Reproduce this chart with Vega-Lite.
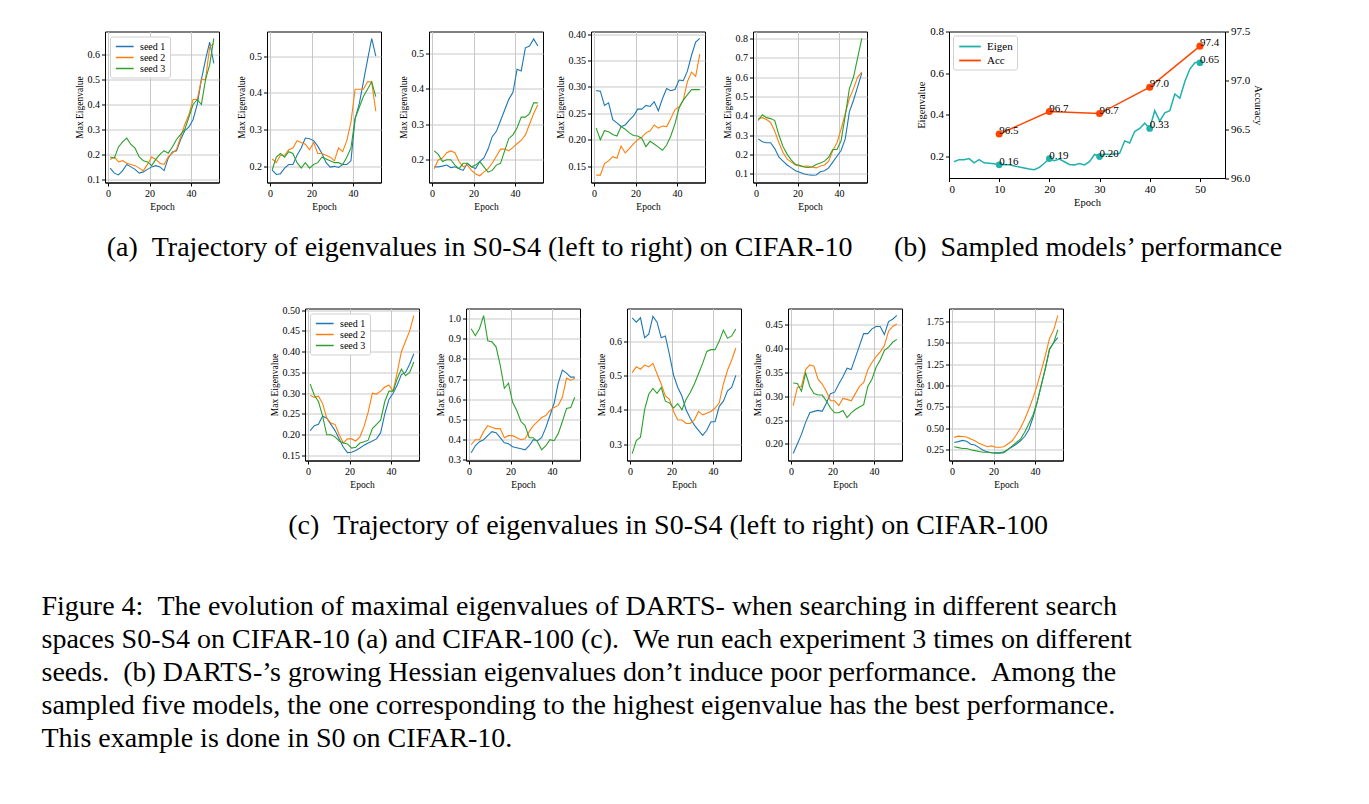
{
"$schema":"https://vega.github.io/schema/vega-lite/v6.json",
"background":"white",
"padding":{"left":41,"top":24.5,"right":5,"bottom":5},
"spacing":42,
"resolve":{"scale":{"color":"independent"},"legend":{"color":"independent"}},
"title":{"text":["Figure 4:\u2002The evolution of maximal eigenvalues of DARTS- when searching in different search","spaces S0-S4 on CIFAR-10 (a) and CIFAR-100 (c).\u2002We run each experiment 3 times on different","seeds.\u2002(b) DARTS-\u2019s growing Hessian eigenvalues don\u2019t induce poor performance.\u2002Among the","sampled five models, the one corresponding to the highest eigenvalue has the best performance.","This example is done in S0 on CIFAR-10."],"orient":"bottom","anchor":"start","frame":"bounds","dx":-32,"offset":53,"baseline":"top","lineHeight":33},
"datasets":{
"s":[
{"p":"a1","e":1,"s1":0.145,"s2":0.18,"s3":0.19},{"p":"a1","e":3,"s1":0.125,"s2":0.19,"s3":0.185},{"p":"a1","e":5,"s1":0.118,"s2":0.17,"s3":0.23},{"p":"a1","e":7,"s1":0.135,"s2":0.175,"s3":0.25},{"p":"a1","e":9,"s1":0.16,"s2":0.165,"s3":0.265},{"p":"a1","e":11,"s1":0.15,"s2":0.16,"s3":0.24},{"p":"a1","e":13,"s1":0.14,"s2":0.155,"s3":0.225},{"p":"a1","e":15,"s1":0.125,"s2":0.145,"s3":0.19},{"p":"a1","e":17,"s1":0.13,"s2":0.135,"s3":0.175},{"p":"a1","e":19,"s1":0.14,"s2":0.16,"s3":0.17},{"p":"a1","e":21,"s1":0.15,"s2":0.19,"s3":0.155},{"p":"a1","e":23,"s1":0.155,"s2":0.18,"s3":0.18},{"p":"a1","e":25,"s1":0.15,"s2":0.165,"s3":0.2},{"p":"a1","e":27,"s1":0.135,"s2":0.16,"s3":0.215},{"p":"a1","e":29,"s1":0.185,"s2":0.19,"s3":0.205},{"p":"a1","e":31,"s1":0.21,"s2":0.205,"s3":0.23},{"p":"a1","e":33,"s1":0.215,"s2":0.22,"s3":0.26},{"p":"a1","e":35,"s1":0.26,"s2":0.27,"s3":0.28},{"p":"a1","e":37,"s1":0.295,"s2":0.32,"s3":0.3},{"p":"a1","e":39,"s1":0.31,"s2":0.36,"s3":0.35},{"p":"a1","e":41,"s1":0.34,"s2":0.42,"s3":0.4},{"p":"a1","e":43,"s1":0.4,"s2":0.42,"s3":0.42},{"p":"a1","e":45,"s1":0.5,"s2":0.5,"s3":0.4},{"p":"a1","e":47,"s1":0.58,"s2":0.5,"s3":0.5},{"p":"a1","e":49,"s1":0.65,"s2":0.63,"s3":0.56},{"p":"a1","e":51,"s1":0.565,"s2":0.645,"s3":0.665},
{"p":"a2","e":1,"s1":0.19,"s2":0.22,"s3":0.19},{"p":"a2","e":3,"s1":0.178,"s2":0.21,"s3":0.225},{"p":"a2","e":5,"s1":0.18,"s2":0.23,"s3":0.235},{"p":"a2","e":7,"s1":0.195,"s2":0.23,"s3":0.225},{"p":"a2","e":9,"s1":0.205,"s2":0.245,"s3":0.24},{"p":"a2","e":11,"s1":0.205,"s2":0.25,"s3":0.235},{"p":"a2","e":13,"s1":0.23,"s2":0.27,"s3":0.21},{"p":"a2","e":15,"s1":0.25,"s2":0.265,"s3":0.195},{"p":"a2","e":17,"s1":0.277,"s2":0.26,"s3":0.21},{"p":"a2","e":19,"s1":0.275,"s2":0.245,"s3":0.195},{"p":"a2","e":21,"s1":0.27,"s2":0.265,"s3":0.205},{"p":"a2","e":23,"s1":0.255,"s2":0.235,"s3":0.21},{"p":"a2","e":25,"s1":0.235,"s2":0.235,"s3":0.225},{"p":"a2","e":27,"s1":0.21,"s2":0.23,"s3":0.22},{"p":"a2","e":29,"s1":0.198,"s2":0.225,"s3":0.215},{"p":"a2","e":31,"s1":0.2,"s2":0.215,"s3":0.21},{"p":"a2","e":33,"s1":0.197,"s2":0.25,"s3":0.21},{"p":"a2","e":35,"s1":0.205,"s2":0.24,"s3":0.205},{"p":"a2","e":37,"s1":0.205,"s2":0.27,"s3":0.225},{"p":"a2","e":39,"s1":0.215,"s2":0.32,"s3":0.25},{"p":"a2","e":41,"s1":0.33,"s2":0.41,"s3":0.33},{"p":"a2","e":43,"s1":0.37,"s2":0.41,"s3":0.36},{"p":"a2","e":45,"s1":0.43,"s2":0.41,"s3":0.39},{"p":"a2","e":47,"s1":0.49,"s2":0.43,"s3":0.41},{"p":"a2","e":49,"s1":0.548,"s2":0.43,"s3":0.43},{"p":"a2","e":51,"s1":0.5,"s2":0.35,"s3":0.39},
{"p":"a3","e":1,"s1":0.18,"s2":0.175,"s3":0.225},{"p":"a3","e":3,"s1":0.18,"s2":0.2,"s3":0.215},{"p":"a3","e":5,"s1":0.182,"s2":0.205,"s3":0.195},{"p":"a3","e":7,"s1":0.185,"s2":0.22,"s3":0.2},{"p":"a3","e":9,"s1":0.178,"s2":0.225,"s3":0.2},{"p":"a3","e":11,"s1":0.18,"s2":0.22,"s3":0.185},{"p":"a3","e":13,"s1":0.175,"s2":0.195,"s3":0.175},{"p":"a3","e":15,"s1":0.17,"s2":0.18,"s3":0.19},{"p":"a3","e":17,"s1":0.19,"s2":0.185,"s3":0.19},{"p":"a3","e":19,"s1":0.18,"s2":0.17,"s3":0.18},{"p":"a3","e":21,"s1":0.175,"s2":0.16,"s3":0.185},{"p":"a3","e":23,"s1":0.195,"s2":0.155,"s3":0.195},{"p":"a3","e":25,"s1":0.205,"s2":0.165,"s3":0.18},{"p":"a3","e":27,"s1":0.23,"s2":0.175,"s3":0.165},{"p":"a3","e":29,"s1":0.265,"s2":0.19,"s3":0.17},{"p":"a3","e":31,"s1":0.28,"s2":0.21,"s3":0.185},{"p":"a3","e":33,"s1":0.31,"s2":0.23,"s3":0.19},{"p":"a3","e":35,"s1":0.34,"s2":0.23,"s3":0.225},{"p":"a3","e":37,"s1":0.37,"s2":0.225,"s3":0.26},{"p":"a3","e":39,"s1":0.39,"s2":0.235,"s3":0.27},{"p":"a3","e":41,"s1":0.455,"s2":0.245,"s3":0.29},{"p":"a3","e":43,"s1":0.45,"s2":0.255,"s3":0.32},{"p":"a3","e":45,"s1":0.515,"s2":0.27,"s3":0.32},{"p":"a3","e":47,"s1":0.52,"s2":0.3,"s3":0.33},{"p":"a3","e":49,"s1":0.54,"s2":0.33,"s3":0.36},{"p":"a3","e":51,"s1":0.52,"s2":0.355,"s3":0.36},
{"p":"a4","e":1,"s1":0.293,"s2":0.133,"s3":0.222},{"p":"a4","e":3,"s1":0.292,"s2":0.133,"s3":0.2},{"p":"a4","e":5,"s1":0.265,"s2":0.155,"s3":0.217},{"p":"a4","e":7,"s1":0.27,"s2":0.16,"s3":0.215},{"p":"a4","e":9,"s1":0.238,"s2":0.168,"s3":0.21},{"p":"a4","e":11,"s1":0.232,"s2":0.165,"s3":0.207},{"p":"a4","e":13,"s1":0.225,"s2":0.188,"s3":0.225},{"p":"a4","e":15,"s1":0.228,"s2":0.175,"s3":0.22},{"p":"a4","e":17,"s1":0.237,"s2":0.183,"s3":0.213},{"p":"a4","e":19,"s1":0.245,"s2":0.192,"s3":0.208},{"p":"a4","e":21,"s1":0.258,"s2":0.2,"s3":0.207},{"p":"a4","e":23,"s1":0.258,"s2":0.205,"s3":0.203},{"p":"a4","e":25,"s1":0.265,"s2":0.213,"s3":0.187},{"p":"a4","e":27,"s1":0.263,"s2":0.217,"s3":0.197},{"p":"a4","e":29,"s1":0.272,"s2":0.228,"s3":0.192},{"p":"a4","e":31,"s1":0.255,"s2":0.222,"s3":0.186},{"p":"a4","e":33,"s1":0.278,"s2":0.226,"s3":0.18},{"p":"a4","e":35,"s1":0.297,"s2":0.225,"s3":0.19},{"p":"a4","e":37,"s1":0.293,"s2":0.24,"s3":0.207},{"p":"a4","e":39,"s1":0.295,"s2":0.257,"s3":0.23},{"p":"a4","e":41,"s1":0.313,"s2":0.262,"s3":0.26},{"p":"a4","e":43,"s1":0.312,"s2":0.275,"s3":0.275},{"p":"a4","e":45,"s1":0.33,"s2":0.31,"s3":0.285},{"p":"a4","e":47,"s1":0.36,"s2":0.328,"s3":0.295},{"p":"a4","e":49,"s1":0.385,"s2":0.32,"s3":0.295},{"p":"a4","e":51,"s1":0.392,"s2":0.362,"s3":0.295},
{"p":"a5","e":1,"s1":0.28,"s2":0.385,"s3":0.375},{"p":"a5","e":3,"s1":0.265,"s2":0.39,"s3":0.405},{"p":"a5","e":5,"s1":0.26,"s2":0.38,"s3":0.39},{"p":"a5","e":7,"s1":0.26,"s2":0.365,"s3":0.385},{"p":"a5","e":9,"s1":0.23,"s2":0.32,"s3":0.375},{"p":"a5","e":11,"s1":0.185,"s2":0.26,"s3":0.3},{"p":"a5","e":13,"s1":0.165,"s2":0.21,"s3":0.24},{"p":"a5","e":15,"s1":0.145,"s2":0.175,"s3":0.2},{"p":"a5","e":17,"s1":0.13,"s2":0.16,"s3":0.17},{"p":"a5","e":19,"s1":0.115,"s2":0.145,"s3":0.148},{"p":"a5","e":21,"s1":0.108,"s2":0.14,"s3":0.143},{"p":"a5","e":23,"s1":0.1,"s2":0.138,"s3":0.135},{"p":"a5","e":25,"s1":0.095,"s2":0.14,"s3":0.132},{"p":"a5","e":27,"s1":0.092,"s2":0.135,"s3":0.135},{"p":"a5","e":29,"s1":0.093,"s2":0.13,"s3":0.148},{"p":"a5","e":31,"s1":0.11,"s2":0.14,"s3":0.155},{"p":"a5","e":33,"s1":0.115,"s2":0.145,"s3":0.165},{"p":"a5","e":35,"s1":0.13,"s2":0.165,"s3":0.185},{"p":"a5","e":37,"s1":0.16,"s2":0.22,"s3":0.225},{"p":"a5","e":39,"s1":0.19,"s2":0.26,"s3":0.225},{"p":"a5","e":41,"s1":0.22,"s2":0.33,"s3":0.27},{"p":"a5","e":43,"s1":0.28,"s2":0.41,"s3":0.4},{"p":"a5","e":45,"s1":0.42,"s2":0.49,"s3":0.54},{"p":"a5","e":47,"s1":0.48,"s2":0.54,"s3":0.6},{"p":"a5","e":49,"s1":0.55,"s2":0.6,"s3":0.7},{"p":"a5","e":51,"s1":0.62,"s2":0.625,"s3":0.8},
{"p":"c1","e":1,"s1":0.21,"s2":0.295,"s3":0.322},{"p":"c1","e":3,"s1":0.222,"s2":0.29,"s3":0.295},{"p":"c1","e":5,"s1":0.225,"s2":0.293,"s3":0.28},{"p":"c1","e":7,"s1":0.245,"s2":0.275,"s3":0.245},{"p":"c1","e":9,"s1":0.24,"s2":0.24,"s3":0.2},{"p":"c1","e":11,"s1":0.225,"s2":0.228,"s3":0.2},{"p":"c1","e":13,"s1":0.21,"s2":0.225,"s3":0.195},{"p":"c1","e":15,"s1":0.19,"s2":0.2,"s3":0.185},{"p":"c1","e":17,"s1":0.17,"s2":0.18,"s3":0.18},{"p":"c1","e":19,"s1":0.157,"s2":0.19,"s3":0.178},{"p":"c1","e":21,"s1":0.158,"s2":0.19,"s3":0.168},{"p":"c1","e":23,"s1":0.162,"s2":0.185,"s3":0.17},{"p":"c1","e":25,"s1":0.168,"s2":0.195,"s3":0.18},{"p":"c1","e":27,"s1":0.175,"s2":0.22,"s3":0.183},{"p":"c1","e":29,"s1":0.18,"s2":0.255,"s3":0.187},{"p":"c1","e":31,"s1":0.185,"s2":0.3,"s3":0.215},{"p":"c1","e":33,"s1":0.19,"s2":0.298,"s3":0.225},{"p":"c1","e":35,"s1":0.205,"s2":0.305,"s3":0.235},{"p":"c1","e":37,"s1":0.25,"s2":0.315,"s3":0.28},{"p":"c1","e":39,"s1":0.285,"s2":0.32,"s3":0.305},{"p":"c1","e":41,"s1":0.3,"s2":0.305,"s3":0.305},{"p":"c1","e":43,"s1":0.32,"s2":0.35,"s3":0.335},{"p":"c1","e":45,"s1":0.345,"s2":0.4,"s3":0.358},{"p":"c1","e":47,"s1":0.35,"s2":0.425,"s3":0.342},{"p":"c1","e":49,"s1":0.37,"s2":0.45,"s3":0.35},{"p":"c1","e":51,"s1":0.395,"s2":0.487,"s3":0.375},
{"p":"c2","e":1,"s1":0.335,"s2":0.375,"s3":0.95},{"p":"c2","e":3,"s1":0.37,"s2":0.4,"s3":0.915},{"p":"c2","e":5,"s1":0.39,"s2":0.4,"s3":0.95},{"p":"c2","e":7,"s1":0.4,"s2":0.44,"s3":1.015},{"p":"c2","e":9,"s1":0.42,"s2":0.47,"s3":0.89},{"p":"c2","e":11,"s1":0.44,"s2":0.46,"s3":0.885},{"p":"c2","e":13,"s1":0.435,"s2":0.455,"s3":0.86},{"p":"c2","e":15,"s1":0.41,"s2":0.455,"s3":0.77},{"p":"c2","e":17,"s1":0.385,"s2":0.41,"s3":0.655},{"p":"c2","e":19,"s1":0.38,"s2":0.42,"s3":0.68},{"p":"c2","e":21,"s1":0.365,"s2":0.42,"s3":0.585},{"p":"c2","e":23,"s1":0.36,"s2":0.41,"s3":0.545},{"p":"c2","e":25,"s1":0.355,"s2":0.4,"s3":0.49},{"p":"c2","e":27,"s1":0.35,"s2":0.405,"s3":0.47},{"p":"c2","e":29,"s1":0.37,"s2":0.44,"s3":0.41},{"p":"c2","e":31,"s1":0.4,"s2":0.47,"s3":0.41},{"p":"c2","e":33,"s1":0.395,"s2":0.49,"s3":0.39},{"p":"c2","e":35,"s1":0.41,"s2":0.51,"s3":0.35},{"p":"c2","e":37,"s1":0.46,"s2":0.52,"s3":0.37},{"p":"c2","e":39,"s1":0.52,"s2":0.545,"s3":0.4},{"p":"c2","e":41,"s1":0.58,"s2":0.56,"s3":0.395},{"p":"c2","e":43,"s1":0.68,"s2":0.57,"s3":0.43},{"p":"c2","e":45,"s1":0.745,"s2":0.61,"s3":0.49},{"p":"c2","e":47,"s1":0.73,"s2":0.705,"s3":0.555},{"p":"c2","e":49,"s1":0.71,"s2":0.695,"s3":0.56},{"p":"c2","e":51,"s1":0.71,"s2":0.705,"s3":0.61},
{"p":"c3","e":1,"s1":0.668,"s2":0.508,"s3":0.272},{"p":"c3","e":3,"s1":0.655,"s2":0.525,"s3":0.31},{"p":"c3","e":5,"s1":0.668,"s2":0.518,"s3":0.32},{"p":"c3","e":7,"s1":0.61,"s2":0.53,"s3":0.4},{"p":"c3","e":9,"s1":0.62,"s2":0.525,"s3":0.445},{"p":"c3","e":11,"s1":0.672,"s2":0.535,"s3":0.462},{"p":"c3","e":13,"s1":0.655,"s2":0.505,"s3":0.448},{"p":"c3","e":15,"s1":0.61,"s2":0.475,"s3":0.465},{"p":"c3","e":17,"s1":0.615,"s2":0.44,"s3":0.425},{"p":"c3","e":19,"s1":0.56,"s2":0.43,"s3":0.42},{"p":"c3","e":21,"s1":0.5,"s2":0.395,"s3":0.405},{"p":"c3","e":23,"s1":0.465,"s2":0.37,"s3":0.418},{"p":"c3","e":25,"s1":0.44,"s2":0.37,"s3":0.4},{"p":"c3","e":27,"s1":0.4,"s2":0.36,"s3":0.43},{"p":"c3","e":29,"s1":0.375,"s2":0.36,"s3":0.45},{"p":"c3","e":31,"s1":0.355,"s2":0.37,"s3":0.475},{"p":"c3","e":33,"s1":0.34,"s2":0.395,"s3":0.505},{"p":"c3","e":35,"s1":0.325,"s2":0.385,"s3":0.535},{"p":"c3","e":37,"s1":0.34,"s2":0.39,"s3":0.57},{"p":"c3","e":39,"s1":0.365,"s2":0.395,"s3":0.575},{"p":"c3","e":41,"s1":0.365,"s2":0.405,"s3":0.575},{"p":"c3","e":43,"s1":0.41,"s2":0.42,"s3":0.6},{"p":"c3","e":45,"s1":0.425,"s2":0.475,"s3":0.632},{"p":"c3","e":47,"s1":0.455,"s2":0.515,"s3":0.608},{"p":"c3","e":49,"s1":0.465,"s2":0.545,"s3":0.615},{"p":"c3","e":51,"s1":0.5,"s2":0.58,"s3":0.635},
{"p":"c4","e":1,"s1":0.18,"s2":0.28,"s3":0.327},{"p":"c4","e":3,"s1":0.2,"s2":0.318,"s3":0.326},{"p":"c4","e":5,"s1":0.22,"s2":0.32,"s3":0.31},{"p":"c4","e":7,"s1":0.245,"s2":0.355,"s3":0.348},{"p":"c4","e":9,"s1":0.265,"s2":0.365,"s3":0.32},{"p":"c4","e":11,"s1":0.268,"s2":0.362,"s3":0.305},{"p":"c4","e":13,"s1":0.27,"s2":0.335,"s3":0.302},{"p":"c4","e":15,"s1":0.268,"s2":0.325,"s3":0.302},{"p":"c4","e":17,"s1":0.285,"s2":0.31,"s3":0.29},{"p":"c4","e":19,"s1":0.305,"s2":0.29,"s3":0.275},{"p":"c4","e":21,"s1":0.308,"s2":0.29,"s3":0.265},{"p":"c4","e":23,"s1":0.325,"s2":0.28,"s3":0.265},{"p":"c4","e":25,"s1":0.34,"s2":0.295,"s3":0.27},{"p":"c4","e":27,"s1":0.358,"s2":0.293,"s3":0.255},{"p":"c4","e":29,"s1":0.355,"s2":0.29,"s3":0.265},{"p":"c4","e":31,"s1":0.38,"s2":0.305,"s3":0.272},{"p":"c4","e":33,"s1":0.405,"s2":0.32,"s3":0.277},{"p":"c4","e":35,"s1":0.43,"s2":0.328,"s3":0.282},{"p":"c4","e":37,"s1":0.43,"s2":0.355,"s3":0.32},{"p":"c4","e":39,"s1":0.44,"s2":0.37,"s3":0.335},{"p":"c4","e":41,"s1":0.445,"s2":0.382,"s3":0.36},{"p":"c4","e":43,"s1":0.445,"s2":0.392,"s3":0.375},{"p":"c4","e":45,"s1":0.428,"s2":0.405,"s3":0.395},{"p":"c4","e":47,"s1":0.455,"s2":0.435,"s3":0.402},{"p":"c4","e":49,"s1":0.46,"s2":0.445,"s3":0.412},{"p":"c4","e":51,"s1":0.468,"s2":0.45,"s3":0.418},
{"p":"c5","e":1,"s1":0.33,"s2":0.39,"s3":0.28},{"p":"c5","e":3,"s1":0.34,"s2":0.405,"s3":0.27},{"p":"c5","e":5,"s1":0.355,"s2":0.4,"s3":0.26},{"p":"c5","e":7,"s1":0.345,"s2":0.395,"s3":0.26},{"p":"c5","e":9,"s1":0.31,"s2":0.37,"s3":0.245},{"p":"c5","e":11,"s1":0.3,"s2":0.35,"s3":0.235},{"p":"c5","e":13,"s1":0.27,"s2":0.32,"s3":0.225},{"p":"c5","e":15,"s1":0.24,"s2":0.3,"s3":0.215},{"p":"c5","e":17,"s1":0.22,"s2":0.28,"s3":0.215},{"p":"c5","e":19,"s1":0.21,"s2":0.29,"s3":0.21},{"p":"c5","e":21,"s1":0.205,"s2":0.275,"s3":0.21},{"p":"c5","e":23,"s1":0.205,"s2":0.275,"s3":0.21},{"p":"c5","e":25,"s1":0.21,"s2":0.28,"s3":0.22},{"p":"c5","e":27,"s1":0.25,"s2":0.315,"s3":0.25},{"p":"c5","e":29,"s1":0.28,"s2":0.35,"s3":0.29},{"p":"c5","e":31,"s1":0.31,"s2":0.42,"s3":0.33},{"p":"c5","e":33,"s1":0.35,"s2":0.5,"s3":0.37},{"p":"c5","e":35,"s1":0.4,"s2":0.6,"s3":0.45},{"p":"c5","e":37,"s1":0.48,"s2":0.72,"s3":0.55},{"p":"c5","e":39,"s1":0.62,"s2":0.85,"s3":0.65},{"p":"c5","e":41,"s1":0.8,"s2":1.0,"s3":0.8},{"p":"c5","e":43,"s1":1.0,"s2":1.17,"s3":1.0},{"p":"c5","e":45,"s1":1.2,"s2":1.35,"s3":1.2},{"p":"c5","e":47,"s1":1.42,"s2":1.55,"s3":1.43},{"p":"c5","e":49,"s1":1.5,"s2":1.65,"s3":1.5},{"p":"c5","e":51,"s1":1.56,"s2":1.82,"s3":1.65}
],
"eig":[{"e":1,"v":0.175},{"e":2,"v":0.185},{"e":3,"v":0.185},{"e":4,"v":0.19},{"e":5,"v":0.17},{"e":6,"v":0.185},{"e":7,"v":0.17},{"e":8,"v":0.168},{"e":9,"v":0.165},{"e":10,"v":0.16},{"e":11,"v":0.162},{"e":12,"v":0.16},{"e":13,"v":0.155},{"e":14,"v":0.15},{"e":15,"v":0.145},{"e":16,"v":0.14},{"e":17,"v":0.137},{"e":18,"v":0.148},{"e":19,"v":0.168},{"e":20,"v":0.19},{"e":21,"v":0.18},{"e":22,"v":0.188},{"e":23,"v":0.175},{"e":24,"v":0.162},{"e":25,"v":0.16},{"e":26,"v":0.167},{"e":27,"v":0.16},{"e":28,"v":0.175},{"e":29,"v":0.21},{"e":30,"v":0.2},{"e":31,"v":0.212},{"e":32,"v":0.21},{"e":33,"v":0.212},{"e":34,"v":0.215},{"e":35,"v":0.275},{"e":36,"v":0.265},{"e":37,"v":0.32},{"e":38,"v":0.335},{"e":39,"v":0.36},{"e":40,"v":0.335},{"e":41,"v":0.42},{"e":42,"v":0.37},{"e":43,"v":0.41},{"e":44,"v":0.42},{"e":45,"v":0.5},{"e":46,"v":0.48},{"e":47,"v":0.56},{"e":48,"v":0.62},{"e":49,"v":0.65},{"e":50,"v":0.655}],
"eigpt":[{"e":10,"v":0.16,"lab":"0.16"},{"e":20,"v":0.19,"lab":"0.19"},{"e":30,"v":0.2,"lab":"0.20"},{"e":40,"v":0.335,"lab":"0.33"},{"e":50,"v":0.65,"lab":"0.65"}],
"acc":[{"e":10,"v":96.45,"lab":"96.5"},{"e":20,"v":96.68,"lab":"96.7"},{"e":30,"v":96.66,"lab":"96.7"},{"e":40,"v":96.93,"lab":"97.0"},{"e":50,"v":97.35,"lab":"97.4"}]
},
"vconcat":[
{"hconcat":[
 {"hconcat":[
  {"width":114,"height":151,"data":{"name":"s"},"transform":[{"filter":"datum.p=='a1'"},{"fold":["s1","s2","s3"],"as":["seed","v"]}],"mark":{"type":"line","strokeWidth":1.1},
   "encoding":{"x":{"field":"e","type":"quantitative","scale":{"domain":[-1.5,53.5],"nice":false,"zero":false},"axis":{"values":[0,20,40],"title":"Epoch"}},
   "y":{"field":"v","type":"quantitative","scale":{"domain":[0.0875,0.6925],"nice":false,"zero":false},"axis":{"values":[0.1,0.2,0.3,0.4,0.5,0.6],"format":".1f","title":"Max Eigenvalue"}},
   "color":{"field":"seed","type":"nominal","scale":{"domain":["s1","s2","s3"],"range":["#1f77b4","#ff7f0e","#2ca02c"]},"legend":{"orient":"top-left","offset":5,"title":null,"symbolType":"M-0.8,0H2.6","symbolSize":110,"symbolStrokeWidth":1.5,"labelFont":"Liberation Serif","labelFontSize":10,"labelColor":"black","labelExpr":"'seed ' + substring(datum.label,1)","strokeColor":"#d0d0d0","fillColor":"white","padding":4,"rowPadding":0,"cornerRadius":2,"labelOffset":14}}}},
  {"width":114,"height":151,"data":{"name":"s"},"transform":[{"filter":"datum.p=='a2'"},{"fold":["s1","s2","s3"],"as":["seed","v"]}],"mark":{"type":"line","strokeWidth":1.1},
   "encoding":{"x":{"field":"e","type":"quantitative","scale":{"domain":[-1.5,53.5],"nice":false,"zero":false},"axis":{"values":[0,20,40],"title":"Epoch"}},
   "y":{"field":"v","type":"quantitative","scale":{"domain":[0.156,0.567],"nice":false,"zero":false},"axis":{"values":[0.2,0.3,0.4,0.5],"format":".1f","title":"Max Eigenvalue"}},
   "color":{"field":"seed","type":"nominal","scale":{"domain":["s1","s2","s3"],"range":["#1f77b4","#ff7f0e","#2ca02c"]},"legend":null}}},
  {"width":114,"height":151,"data":{"name":"s"},"transform":[{"filter":"datum.p=='a3'"},{"fold":["s1","s2","s3"],"as":["seed","v"]}],"mark":{"type":"line","strokeWidth":1.1},
   "encoding":{"x":{"field":"e","type":"quantitative","scale":{"domain":[-1.5,53.5],"nice":false,"zero":false},"axis":{"values":[0,20,40],"title":"Epoch"}},
   "y":{"field":"v","type":"quantitative","scale":{"domain":[0.136,0.561],"nice":false,"zero":false},"axis":{"values":[0.2,0.3,0.4,0.5],"format":".1f","title":"Max Eigenvalue"}},
   "color":{"field":"seed","type":"nominal","scale":{"domain":["s1","s2","s3"],"range":["#1f77b4","#ff7f0e","#2ca02c"]},"legend":null}}},
  {"width":114,"height":151,"data":{"name":"s"},"transform":[{"filter":"datum.p=='a4'"},{"fold":["s1","s2","s3"],"as":["seed","v"]}],"mark":{"type":"line","strokeWidth":1.1},
   "encoding":{"x":{"field":"e","type":"quantitative","scale":{"domain":[-1.5,53.5],"nice":false,"zero":false},"axis":{"values":[0,20,40],"title":"Epoch"}},
   "y":{"field":"v","type":"quantitative","scale":{"domain":[0.119,0.405],"nice":false,"zero":false},"axis":{"values":[0.15,0.2,0.25,0.3,0.35,0.4],"format":".2f","title":"Max Eigenvalue"}},
   "color":{"field":"seed","type":"nominal","scale":{"domain":["s1","s2","s3"],"range":["#1f77b4","#ff7f0e","#2ca02c"]},"legend":null}}},
  {"width":114,"height":151,"data":{"name":"s"},"transform":[{"filter":"datum.p=='a5'"},{"fold":["s1","s2","s3"],"as":["seed","v"]}],"mark":{"type":"line","strokeWidth":1.1},
   "encoding":{"x":{"field":"e","type":"quantitative","scale":{"domain":[-1.5,53.5],"nice":false,"zero":false},"axis":{"values":[0,20,40],"title":"Epoch"}},
   "y":{"field":"v","type":"quantitative","scale":{"domain":[0.0545,0.8355],"nice":false,"zero":false},"axis":{"values":[0.1,0.2,0.3,0.4,0.5,0.6,0.7,0.8],"format":".1f","title":"Max Eigenvalue"}},
   "color":{"field":"seed","type":"nominal","scale":{"domain":["s1","s2","s3"],"range":["#1f77b4","#ff7f0e","#2ca02c"]},"legend":null}}}
 ],"spacing":48,"bounds":"flush","resolve":{"scale":{"color":"independent"},"legend":{"color":"independent"}},
 "title":{"text":"(a)\u2002Trajectory of eigenvalues in S0-S4 (left to right) on CIFAR-10","orient":"bottom","anchor":"middle","frame":"bounds","offset":23,"baseline":"top","dx":9}},
 {"width":276,"height":146.5,
  "title":{"text":"(b)\u2002Sampled models\u2019 performance","orient":"bottom","anchor":"middle","frame":"group","offset":26,"baseline":"top","dx":1},
  "layer":[
   {"layer":[
    {"data":{"name":"eig"},"mark":{"type":"line","strokeWidth":1.5},"encoding":{"x":{"field":"e","type":"quantitative","scale":{"domain":[0,55],"nice":false,"zero":false},"axis":{"values":[0,10,20,30,40,50],"title":"Epoch","grid":false,"labelFontSize":11,"titleFontSize":10.5}},"y":{"field":"v","type":"quantitative","scale":{"domain":[0.097,0.8],"nice":false,"zero":false},"axis":{"values":[0.2,0.4,0.6,0.8],"format":".1f","title":"Eigenvalue","grid":false,"orient":"left","labelFontSize":11,"titleFontSize":10.5}},"color":{"datum":"Eigen","type":"nominal","scale":{"domain":["Eigen","Acc"],"range":["#20b2aa","#ff4500"]},"legend":{"orient":"top-left","offset":4,"title":null,"symbolType":"M-0.8,0H2.8","symbolSize":144,"symbolStrokeWidth":1.8,"labelFont":"Liberation Serif","labelFontSize":11,"labelColor":"black","strokeColor":"#d0d0d0","fillColor":"white","padding":4,"rowPadding":2,"cornerRadius":2,"labelOffset":16}}}},
    {"data":{"name":"eigpt"},"mark":{"type":"circle","size":45,"color":"#20b2aa","opacity":1},"encoding":{"x":{"field":"e","type":"quantitative"},"y":{"field":"v","type":"quantitative"}}},
    {"data":{"name":"eigpt"},"mark":{"type":"text","align":"left","baseline":"alphabetic","font":"Liberation Serif","fontSize":11,"color":"black"},"encoding":{"x":{"field":"e","type":"quantitative"},"y":{"field":"v","type":"quantitative"},"text":{"field":"lab"}}}
   ]},
   {"layer":[
    {"data":{"name":"acc"},"mark":{"type":"line","strokeWidth":1.5},"encoding":{"x":{"field":"e","type":"quantitative"},"y":{"field":"v","type":"quantitative","scale":{"domain":[96.0,97.5],"nice":false,"zero":false},"axis":{"values":[96.0,96.5,97.0,97.5],"format":".1f","title":"Accuracy","grid":false,"orient":"right","labelFontSize":11,"titleFontSize":10.5}},"color":{"datum":"Acc","type":"nominal"}}},
    {"data":{"name":"acc"},"mark":{"type":"circle","size":50,"color":"#ff4500","opacity":1},"encoding":{"x":{"field":"e","type":"quantitative"},"y":{"field":"v","type":"quantitative"}}},
    {"data":{"name":"acc"},"mark":{"type":"text","align":"left","baseline":"alphabetic","font":"Liberation Serif","fontSize":11,"color":"black"},"encoding":{"x":{"field":"e","type":"quantitative"},"y":{"field":"v","type":"quantitative"},"text":{"field":"lab"}}}
   ]}
  ],
  "resolve":{"scale":{"y":"independent"}}}
 ],"spacing":24,"resolve":{"scale":{"color":"independent"},"legend":{"color":"independent"}}},
{"hconcat":[
 {"width":116,"height":20,"data":{"values":[]},"mark":"point","view":{"stroke":null}},
 {"hconcat":[
  {"width":114,"height":152,"data":{"name":"s"},"transform":[{"filter":"datum.p=='c1'"},{"fold":["s1","s2","s3"],"as":["seed","v"]}],"mark":{"type":"line","strokeWidth":1.1},
   "encoding":{"x":{"field":"e","type":"quantitative","scale":{"domain":[-1.5,53.5],"nice":false,"zero":false},"axis":{"values":[0,20,40],"title":"Epoch"}},
   "y":{"field":"v","type":"quantitative","scale":{"domain":[0.138,0.504],"nice":false,"zero":false},"axis":{"values":[0.15,0.2,0.25,0.3,0.35,0.4,0.45,0.5],"format":".2f","title":"Max Eigenvalue"}},
   "color":{"field":"seed","type":"nominal","scale":{"domain":["s1","s2","s3"],"range":["#1f77b4","#ff7f0e","#2ca02c"]},"legend":{"orient":"top-left","offset":5,"title":null,"symbolType":"M-0.8,0H2.6","symbolSize":110,"symbolStrokeWidth":1.5,"labelFont":"Liberation Serif","labelFontSize":10,"labelColor":"black","labelExpr":"'seed ' + substring(datum.label,1)","strokeColor":"#d0d0d0","fillColor":"white","padding":4,"rowPadding":0,"cornerRadius":2,"labelOffset":14}}}},
  {"width":114,"height":152,"data":{"name":"s"},"transform":[{"filter":"datum.p=='c2'"},{"fold":["s1","s2","s3"],"as":["seed","v"]}],"mark":{"type":"line","strokeWidth":1.1},
   "encoding":{"x":{"field":"e","type":"quantitative","scale":{"domain":[-1.5,53.5],"nice":false,"zero":false},"axis":{"values":[0,20,40],"title":"Epoch"}},
   "y":{"field":"v","type":"quantitative","scale":{"domain":[0.297,1.05],"nice":false,"zero":false},"axis":{"values":[0.3,0.4,0.5,0.6,0.7,0.8,0.9,1.0],"format":".1f","title":"Max Eigenvalue"}},
   "color":{"field":"seed","type":"nominal","scale":{"domain":["s1","s2","s3"],"range":["#1f77b4","#ff7f0e","#2ca02c"]},"legend":null}}},
  {"width":114,"height":152,"data":{"name":"s"},"transform":[{"filter":"datum.p=='c3'"},{"fold":["s1","s2","s3"],"as":["seed","v"]}],"mark":{"type":"line","strokeWidth":1.1},
   "encoding":{"x":{"field":"e","type":"quantitative","scale":{"domain":[-1.5,53.5],"nice":false,"zero":false},"axis":{"values":[0,20,40],"title":"Epoch"}},
   "y":{"field":"v","type":"quantitative","scale":{"domain":[0.252,0.695],"nice":false,"zero":false},"axis":{"values":[0.3,0.4,0.5,0.6],"format":".1f","title":"Max Eigenvalue"}},
   "color":{"field":"seed","type":"nominal","scale":{"domain":["s1","s2","s3"],"range":["#1f77b4","#ff7f0e","#2ca02c"]},"legend":null}}},
  {"width":114,"height":152,"data":{"name":"s"},"transform":[{"filter":"datum.p=='c4'"},{"fold":["s1","s2","s3"],"as":["seed","v"]}],"mark":{"type":"line","strokeWidth":1.1},
   "encoding":{"x":{"field":"e","type":"quantitative","scale":{"domain":[-1.5,53.5],"nice":false,"zero":false},"axis":{"values":[0,20,40],"title":"Epoch"}},
   "y":{"field":"v","type":"quantitative","scale":{"domain":[0.1656,0.4824],"nice":false,"zero":false},"axis":{"values":[0.2,0.25,0.3,0.35,0.4,0.45],"format":".2f","title":"Max Eigenvalue"}},
   "color":{"field":"seed","type":"nominal","scale":{"domain":["s1","s2","s3"],"range":["#1f77b4","#ff7f0e","#2ca02c"]},"legend":null}}},
  {"width":114,"height":152,"data":{"name":"s"},"transform":[{"filter":"datum.p=='c5'"},{"fold":["s1","s2","s3"],"as":["seed","v"]}],"mark":{"type":"line","strokeWidth":1.1},
   "encoding":{"x":{"field":"e","type":"quantitative","scale":{"domain":[-1.5,53.5],"nice":false,"zero":false},"axis":{"values":[0,20,40],"title":"Epoch"}},
   "y":{"field":"v","type":"quantitative","scale":{"domain":[0.119,1.901],"nice":false,"zero":false},"axis":{"values":[0.25,0.5,0.75,1.0,1.25,1.5,1.75],"format":".2f","title":"Max Eigenvalue"}},
   "color":{"field":"seed","type":"nominal","scale":{"domain":["s1","s2","s3"],"range":["#1f77b4","#ff7f0e","#2ca02c"]},"legend":null}}}
 ],"spacing":47,"bounds":"flush","resolve":{"scale":{"color":"independent"},"legend":{"color":"independent"}},
 "title":{"text":"(c)\u2002Trajectory of eigenvalues in S0-S4 (left to right) on CIFAR-100","orient":"bottom","anchor":"middle","frame":"bounds","offset":23,"baseline":"top","dx":2}}
],"spacing":47,"resolve":{"scale":{"color":"independent"},"legend":{"color":"independent"}}}
],
"config":{
 "view":{"stroke":"black","strokeWidth":1},
 "axis":{"labelFont":"Liberation Serif","titleFont":"Liberation Serif","labelFontSize":10,"titleFontSize":9.5,"titleFontWeight":"normal","labelColor":"black","titleColor":"black","tickColor":"black","domainColor":"black","tickSize":3.5,"labelPadding":2,"titlePadding":3,"gridColor":"#c8c8c8","gridWidth":1,"labelOverlap":false},
 "title":{"font":"Liberation Serif","fontSize":28,"fontWeight":"normal","color":"black"}
}
}
